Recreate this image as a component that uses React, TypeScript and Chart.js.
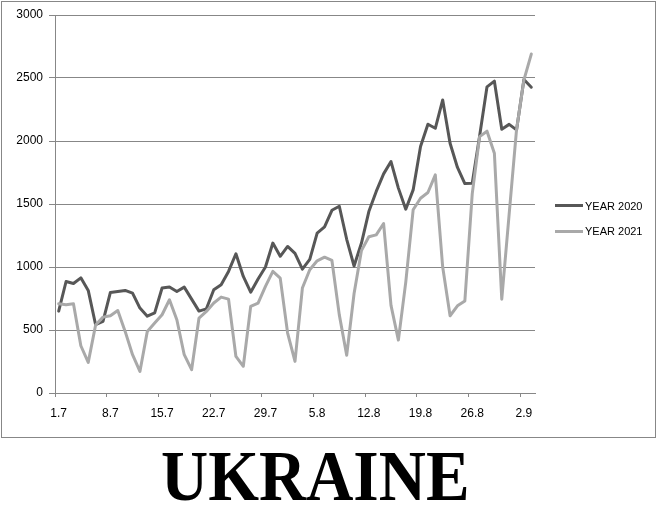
import React, { useEffect, useRef } from "react";
import { Chart, registerables } from "chart.js";

Chart.register(...registerables);

const DAYS: string[] = [
  "1.7", "2.7", "3.7", "4.7", "5.7", "6.7", "7.7", "8.7", "9.7", "10.7",
  "11.7", "12.7", "13.7", "14.7", "15.7", "16.7", "17.7", "18.7", "19.7", "20.7",
  "21.7", "22.7", "23.7", "24.7", "25.7", "26.7", "27.7", "28.7", "29.7", "30.7",
  "31.7", "1.8", "2.8", "3.8", "4.8", "5.8", "6.8", "7.8", "8.8", "9.8",
  "10.8", "11.8", "12.8", "13.8", "14.8", "15.8", "16.8", "17.8", "18.8", "19.8",
  "20.8", "21.8", "22.8", "23.8", "24.8", "25.8", "26.8", "27.8", "28.8", "29.8",
  "30.8", "31.8", "1.9", "2.9", "3.9",
];

const YEAR_2020: number[] = [
  650, 885, 869, 914, 814, 542, 568, 798, 806, 814,
  793, 674, 610, 636, 833, 841, 806, 840, 745, 650,
  668, 819, 859, 965, 1105, 925, 800, 905, 1000, 1190,
  1085, 1163, 1108, 983, 1060, 1269, 1318, 1450, 1482, 1220,
  1008, 1190, 1440, 1600, 1739, 1837, 1626, 1459, 1612, 1956,
  2133, 2101, 2326, 1982, 1790, 1662, 1665, 2040, 2430, 2475,
  2094, 2132, 2088, 2488, 2427,
];

const YEAR_2021: number[] = [
  708, 700, 708, 375, 243, 540, 602, 613, 655, 489,
  304, 171, 489, 555, 621, 740, 581, 304, 185, 595,
  647, 714, 761, 745, 290, 212, 687, 713, 846, 965,
  912, 476, 251, 833, 978, 1049, 1078, 1052, 620, 300,
  790, 1130, 1240, 1255, 1345, 695, 420, 880, 1454, 1546,
  1591, 1731, 1000, 613, 692, 730, 1580, 2035, 2078, 1903,
  745, 1420, 2090, 2485, 2690,
];

const SERIES_NAMES = ["YEAR 2020", "YEAR 2021"];
const SERIES_COLORS = ["#575757", "#a9a9a9"];
const GRID = "#878787";
const FONT = "'Liberation Sans', Arial, sans-serif";

export default function App() {
  const canvasRef = useRef<HTMLCanvasElement | null>(null);

  useEffect(() => {
    const canvas = canvasRef.current;
    if (!canvas) return;
    const chart = new Chart(canvas, {
      type: "line",
      data: {
        labels: DAYS,
        datasets: [
          {
            label: SERIES_NAMES[0],
            data: YEAR_2020,
            borderColor: SERIES_COLORS[0],
            backgroundColor: SERIES_COLORS[0],
            borderWidth: 3,
            pointRadius: 0,
            tension: 0,
            borderJoinStyle: "round",
            borderCapStyle: "round",
            order: 1,
          },
          {
            label: SERIES_NAMES[1],
            data: YEAR_2021,
            borderColor: SERIES_COLORS[1],
            backgroundColor: SERIES_COLORS[1],
            borderWidth: 3,
            pointRadius: 0,
            tension: 0,
            borderJoinStyle: "round",
            borderCapStyle: "round",
            order: 0,
          },
        ],
      },
      options: {
        animation: false,
        responsive: false,
        maintainAspectRatio: false,
        layout: { padding: { left: 0, right: 123, top: 15, bottom: 0 } },
        plugins: {
          legend: { display: false },
          tooltip: { enabled: false },
          title: { display: false },
        },
        scales: {
          x: {
            type: "category",
            offset: true,
            grid: {
              offset: true,
              drawOnChartArea: false,
              drawTicks: true,
              tickLength: 4,
              lineWidth: 1,
              color: (ctx: any) => (ctx.index % 7 === 0 ? GRID : "rgba(0,0,0,0)"),
            },
            border: { display: true, color: GRID, width: 1 },
            ticks: {
              autoSkip: false,
              maxRotation: 0,
              minRotation: 0,
              padding: 9,
              color: "#000",
              font: { family: FONT, size: 12 },
              callback: (_v: any, i: number) => (i % 7 === 0 ? DAYS[i] : ""),
            },
            afterFit: (s: any) => {
              s.height = 47;
            },
          },
          y: {
            min: 0,
            max: 3000,
            grid: { color: GRID, lineWidth: 1, drawTicks: true, tickLength: 6 },
            border: { display: true, color: GRID, width: 1 },
            ticks: {
              stepSize: 500,
              padding: 6,
              color: "#000",
              font: { family: FONT, size: 12 },
              callback: (v: any) => String(v),
            },
            afterFit: (s: any) => {
              s.width = 55;
            },
          },
        },
      },
    });
    return () => chart.destroy();
  }, []);

  const legendRows = [
    { lineTop: 204, textTop: 200 },
    { lineTop: 230, textTop: 224.5 },
  ];

  return (
    <div
      style={{
        position: "fixed",
        left: 0,
        top: 0,
        width: 658,
        height: 506,
        background: "#fff",
        overflow: "hidden",
      }}
    >
      <div
        style={{
          position: "absolute",
          left: 1,
          top: 1,
          width: 655,
          height: 437,
          boxSizing: "border-box",
          border: `1px solid ${GRID}`,
        }}
      />
      <canvas
        ref={canvasRef}
        width={658}
        height={440}
        style={{ position: "absolute", left: 0, top: 0, width: 658, height: 440 }}
      />
      {SERIES_NAMES.map((name, i) => (
        <React.Fragment key={name}>
          <div
            style={{
              position: "absolute",
              left: 555,
              top: legendRows[i].lineTop,
              width: 28,
              height: 3,
              background: SERIES_COLORS[i],
            }}
          />
          <div
            style={{
              position: "absolute",
              left: 585,
              top: legendRows[i].textTop,
              fontFamily: FONT,
              fontSize: 11,
              lineHeight: "13px",
              color: "#000",
              whiteSpace: "nowrap",
            }}
          >
            {name}
          </div>
        </React.Fragment>
      ))}
      <div
        style={{
          position: "absolute",
          left: 161,
          top: 441,
          fontFamily: "'Liberation Serif', 'Times New Roman', serif",
          fontWeight: "bold",
          fontSize: 71,
          lineHeight: "71px",
          color: "#000",
          whiteSpace: "nowrap",
          transform: "scaleX(0.92)",
          transformOrigin: "left top",
        }}
      >
        UKRAINE
      </div>
    </div>
  );
}
